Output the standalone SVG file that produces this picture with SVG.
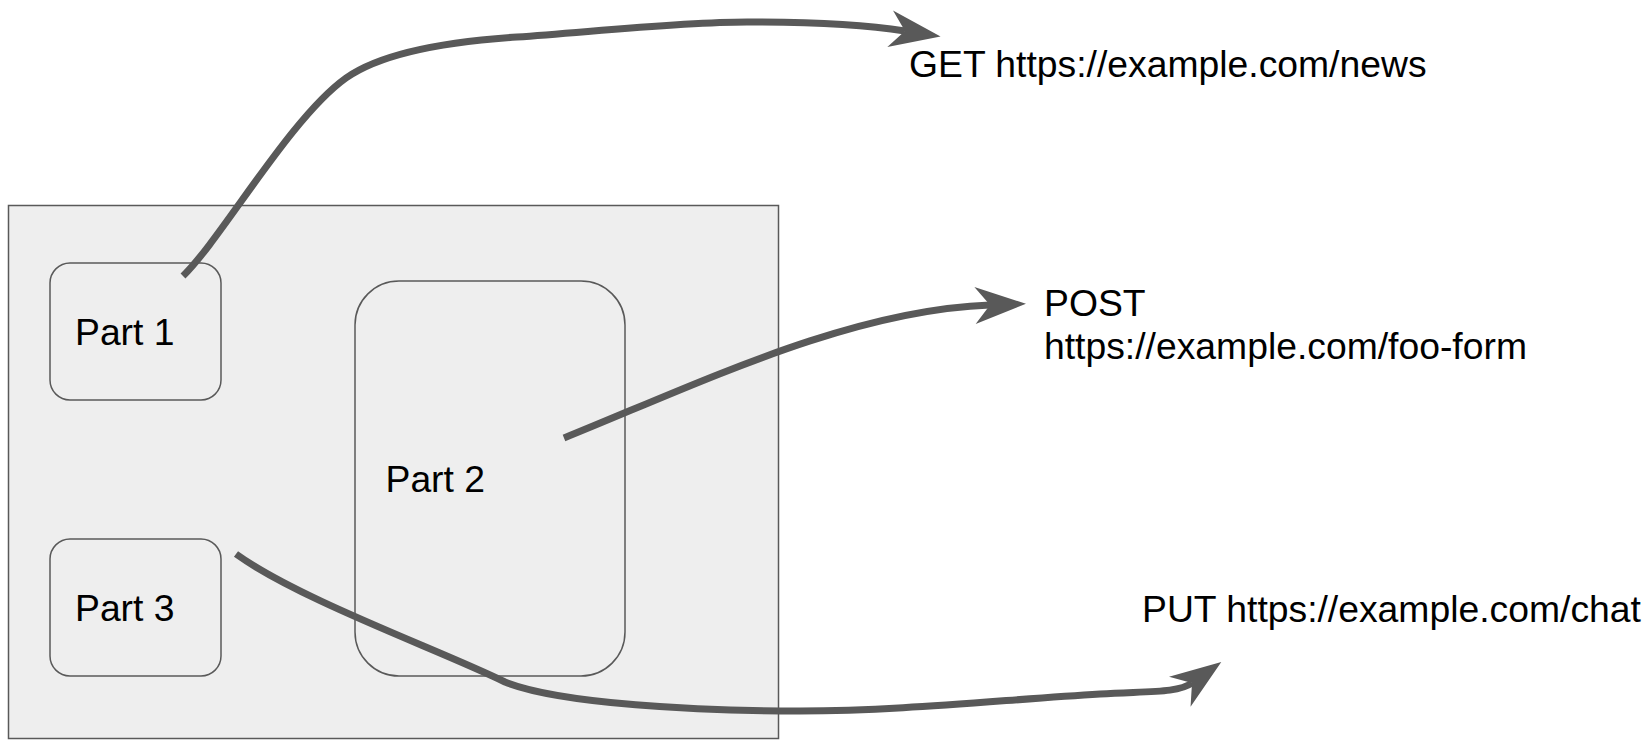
<svg xmlns="http://www.w3.org/2000/svg" width="1651" height="740" viewBox="0 0 1651 740">
  <style>
    .box { fill: #eeeeee; stroke: #595959; stroke-width: 1.5; }
    .lbl { font-family: "Liberation Sans", Arial, sans-serif; font-size: 37.3px; fill: #000000; }
    .conn { fill: none; stroke: #595959; stroke-width: 7; }
  </style>
  <defs>
    <marker id="arrow" markerUnits="userSpaceOnUse" orient="auto" refX="0" refY="0" markerWidth="60" markerHeight="60" viewBox="-20 -25 60 50" overflow="visible">
      <path d="M36,0 L-15,-18.5 L0,0 L-15,18.5 Z" fill="#595959"/>
    </marker>
  </defs>
  <rect width="1651" height="740" fill="#ffffff"/>

  <g id="container">
    <rect class="box" x="8.5" y="205.5" width="770" height="533"/>
  </g>
  <g id="part1">
    <rect class="box" x="50" y="263" width="171" height="137" rx="20" ry="20"/>
    <text class="lbl" x="75" y="345">Part 1</text>
  </g>
  <g id="part2">
    <rect class="box" x="355" y="281" width="270" height="395" rx="44" ry="44"/>
    <text class="lbl" x="385.5" y="492">Part 2</text>
  </g>
  <g id="part3">
    <rect class="box" x="50" y="539" width="171" height="137" rx="20" ry="20"/>
    <text class="lbl" x="75" y="621">Part 3</text>
  </g>
  <g id="get">
    <text class="lbl" x="909" y="77">GET https://example.com/news</text>
  </g>
  <g id="post">
    <text class="lbl" x="1044" y="316">POST</text>
    <text class="lbl" x="1044" y="359">https://example.com/foo-form</text>
  </g>
  <g id="put">
    <text class="lbl" x="1142" y="622">PUT https://example.com/chat</text>
  </g>

  <g id="connectors">
    <path class="conn" marker-end="url(#arrow)" d="M183,276 C222,238 290,118 346,78 C380,54 440,42 517,37 C590,32 680,22 747,22 C800,22 860,24 905,31"/>
    <path class="conn" marker-end="url(#arrow)" d="M564,438 C700,383 850,310 990,305"/>
    <path class="conn" marker-end="url(#arrow)" d="M236,554 C300,600 440,650 505,682 C560,704 700,711 800,711 C900,711 1000,700 1100,694 C1150,691 1178,693 1192,683"/>
  </g>
</svg>
